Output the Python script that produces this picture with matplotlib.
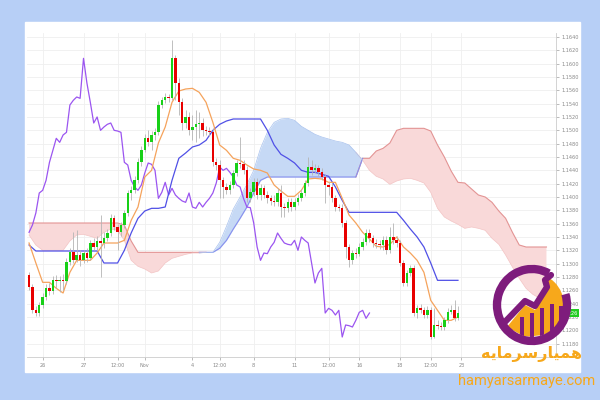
import numpy as np
import matplotlib
matplotlib.use("Agg")
import matplotlib.pyplot as plt
from matplotlib.patches import Rectangle, Circle, Arc, Polygon

# ---------- data (4h candles, Ichimoku) ----------
first_open = 1.1283
closes = [1.1265, 1.1230, 1.1226, 1.1238, 1.1250, 1.1263, 1.1259, 1.1275, 1.1274, 1.1275,
          1.1274, 1.1302, 1.1317, 1.1305, 1.1313, 1.1305, 1.1316, 1.1308, 1.1331, 1.1325,
          1.1334, 1.1331, 1.1338, 1.1346, 1.1368, 1.1355, 1.1347, 1.1358, 1.1376, 1.1406,
          1.1410, 1.1425, 1.1452, 1.1470, 1.1488, 1.1482, 1.1493, 1.1497, 1.1538, 1.1545,
          1.1550, 1.1548, 1.1608, 1.1571, 1.1542, 1.1511, 1.1520, 1.1500, 1.1505, 1.1509,
          1.1511, 1.1500, 1.1499, 1.1497, 1.1452, 1.1448, 1.1425, 1.1415, 1.1410, 1.1418,
          1.1436, 1.1451, 1.1449, 1.1440, 1.1398, 1.1407, 1.1422, 1.1403, 1.1413, 1.1403,
          1.1398, 1.1394, 1.1392, 1.1406, 1.1385, 1.1383, 1.1392, 1.1385, 1.1392, 1.1398,
          1.1406, 1.1421, 1.1445, 1.1440, 1.1443, 1.1437, 1.1430, 1.1418, 1.1415, 1.1398,
          1.1385, 1.1384, 1.1361, 1.1325, 1.1305, 1.1316, 1.1315, 1.1325, 1.1332, 1.1346,
          1.1338, 1.1331, 1.1329, 1.1328, 1.1335, 1.1320, 1.1340, 1.1335, 1.1331, 1.1301,
          1.1271, 1.1286, 1.1293, 1.1226, 1.1233, 1.1230, 1.1223, 1.1230, 1.1190, 1.1208,
          1.1207, 1.1205, 1.1215, 1.1227, 1.1230, 1.1218, 1.1226]
highs = [1.1287, 1.1269, 1.1236, 1.1242, 1.1256, 1.1269, 1.1271, 1.1281, 1.1283, 1.1281,
         1.1284, 1.1308, 1.1323, 1.1347, 1.1350, 1.1320, 1.1320, 1.1323, 1.1335, 1.1338,
         1.1341, 1.1373, 1.1347, 1.1352, 1.1374, 1.1373, 1.1359, 1.1362, 1.1380, 1.1410,
         1.1416, 1.1431, 1.1458, 1.1476, 1.1494, 1.1500, 1.1499, 1.1503, 1.1544, 1.1550,
         1.1556, 1.1554, 1.1635, 1.1613, 1.1578, 1.1548, 1.1530, 1.1527, 1.1523, 1.1530,
         1.1527, 1.1518, 1.1506, 1.1505, 1.1503, 1.1458, 1.1455, 1.1430, 1.1421, 1.1424,
         1.1440, 1.1455, 1.1490, 1.1455, 1.1446, 1.1413, 1.1428, 1.1428, 1.1419, 1.1418,
         1.1409, 1.1403, 1.1403, 1.1413, 1.1418, 1.1391, 1.1398, 1.1398, 1.1398, 1.1404,
         1.1412, 1.1425, 1.1460, 1.1455, 1.1449, 1.1448, 1.1443, 1.1434, 1.1422, 1.1421,
         1.1403, 1.1389, 1.1389, 1.1365, 1.1329, 1.1320, 1.1323, 1.1331, 1.1338, 1.1352,
         1.1352, 1.1343, 1.1337, 1.1335, 1.1341, 1.1341, 1.1355, 1.1361, 1.1341, 1.1335,
         1.1305, 1.1290, 1.1298, 1.1298, 1.1238, 1.1239, 1.1235, 1.1236, 1.1235, 1.1233,
         1.1215, 1.1212, 1.1220, 1.1233, 1.1238, 1.1245, 1.1236]
lows = [1.1260, 1.1226, 1.1221, 1.1221, 1.1233, 1.1245, 1.1253, 1.1254, 1.1263, 1.1257,
        1.1260, 1.1269, 1.1298, 1.1301, 1.1302, 1.1296, 1.1301, 1.1302, 1.1305, 1.1320,
        1.1320, 1.1280, 1.1323, 1.1334, 1.1341, 1.1350, 1.1320, 1.1341, 1.1353, 1.1371,
        1.1395, 1.1406, 1.1421, 1.1446, 1.1467, 1.1476, 1.1470, 1.1485, 1.1493, 1.1533,
        1.1541, 1.1542, 1.1545, 1.1545, 1.1523, 1.1500, 1.1503, 1.1493, 1.1485, 1.1482,
        1.1488, 1.1491, 1.1493, 1.1491, 1.1446, 1.1440, 1.1398, 1.1398, 1.1404, 1.1404,
        1.1413, 1.1431, 1.1443, 1.1434, 1.1392, 1.1392, 1.1401, 1.1397, 1.1395, 1.1398,
        1.1391, 1.1388, 1.1386, 1.1386, 1.1370, 1.1370, 1.1377, 1.1379, 1.1380, 1.1388,
        1.1394, 1.1401, 1.1416, 1.1433, 1.1436, 1.1431, 1.1425, 1.1391, 1.1403, 1.1392,
        1.1379, 1.1379, 1.1355, 1.1308, 1.1295, 1.1299, 1.1308, 1.1311, 1.1320, 1.1328,
        1.1332, 1.1325, 1.1323, 1.1322, 1.1320, 1.1314, 1.1316, 1.1329, 1.1325, 1.1296,
        1.1266, 1.1266, 1.1281, 1.1221, 1.1218, 1.1226, 1.1218, 1.1218, 1.1187, 1.1188,
        1.1202, 1.1200, 1.1200, 1.1211, 1.1224, 1.1214, 1.1215]

# lines read every second bar
tenkan = [1.1331, 1.1301, 1.1272, 1.1272, 1.1263, 1.1256, 1.1287, 1.1305, 1.1305, 1.1305,
          1.1316, 1.1331, 1.1331, 1.1331, 1.1335, 1.1365, 1.1385, 1.1430, 1.1440, 1.1481,
          1.1505, 1.1542, 1.1559, 1.1562, 1.1563, 1.1557, 1.1542, 1.1512, 1.1478, 1.1470,
          1.1458, 1.1455, 1.1448, 1.1442, 1.1440, 1.1436, 1.1418, 1.1409, 1.1401, 1.1401,
          1.1410, 1.1427, 1.1428, 1.1427, 1.1422, 1.1422, 1.1398, 1.1373, 1.1361, 1.1347,
          1.1337, 1.1326, 1.1325, 1.1329, 1.1340, 1.1325, 1.1316, 1.1305, 1.1287, 1.1245,
          1.1230, 1.1215, 1.1215, 1.1220]
kijun = [1.1328, 1.1319, 1.1319, 1.1319, 1.1319, 1.1319, 1.1319, 1.1319, 1.1319, 1.1319,
         1.1319, 1.1301, 1.1301, 1.1301, 1.1320, 1.1346, 1.1368, 1.1379, 1.1383, 1.1383,
         1.1385, 1.1425, 1.1458, 1.1466, 1.1475, 1.1478, 1.1485, 1.1500, 1.1509, 1.1514,
         1.1517, 1.1517, 1.1517, 1.1517, 1.1517, 1.1500, 1.1478, 1.1464, 1.1458, 1.1451,
         1.1440, 1.1437, 1.1437, 1.1434, 1.1431, 1.1415, 1.1395, 1.1377, 1.1377, 1.1377,
         1.1377, 1.1377, 1.1377, 1.1377, 1.1377, 1.1365, 1.1352, 1.1340, 1.1325, 1.1301,
         1.1275, 1.1275, 1.1275, 1.1275]
span_a = [1.1343, 1.1328, 1.1320, 1.1320, 1.1320, 1.1320, 1.1334, 1.1343, 1.1344, 1.1341,
          1.1338, 1.1347, 1.1352, 1.1350, 1.1335, 1.1305, 1.1296, 1.1292, 1.1286, 1.1289,
          1.1301, 1.1308, 1.1311, 1.1314, 1.1316, 1.1316, 1.1317, 1.1317, 1.1332, 1.1356,
          1.1382, 1.1400, 1.1419, 1.1440, 1.1473, 1.1497, 1.1512, 1.1517, 1.1518, 1.1515,
          1.1506, 1.1500, 1.1494, 1.1490, 1.1487, 1.1484, 1.1482, 1.1478, 1.1467, 1.1455,
          1.1440, 1.1431, 1.1427, 1.1419, 1.1424, 1.1427, 1.1428, 1.1425, 1.1421, 1.1407,
          1.1383, 1.1370, 1.1364, 1.1359, 1.1353, 1.1355, 1.1353, 1.1350, 1.1338, 1.1329,
          1.1313, 1.1295, 1.1278, 1.1263, 1.1254, 1.1248, 1.1245]
span_b = [1.1361, 1.1361, 1.1361, 1.1361, 1.1361, 1.1361, 1.1361, 1.1361, 1.1361, 1.1361,
          1.1361, 1.1361, 1.1361, 1.1361, 1.1358, 1.1334, 1.1317, 1.1317, 1.1317, 1.1317,
          1.1317, 1.1317, 1.1317, 1.1317, 1.1317, 1.1317, 1.1317, 1.1317, 1.1323, 1.1335,
          1.1352, 1.1368, 1.1385, 1.1406, 1.1425, 1.1430, 1.1430, 1.1430, 1.1430, 1.1430,
          1.1430, 1.1430, 1.1430, 1.1430, 1.1430, 1.1430, 1.1430, 1.1430, 1.1430, 1.1458,
          1.1458, 1.1469, 1.1473, 1.1481, 1.1500, 1.1503, 1.1503, 1.1503, 1.1503, 1.1499,
          1.1478, 1.1460, 1.1439, 1.1422, 1.1421, 1.1412, 1.1403, 1.1400, 1.1392, 1.1379,
          1.1368, 1.1347, 1.1328, 1.1325, 1.1325, 1.1325, 1.1325]
lag = 26  # chikou shift

date_ticks = [4, 16, 26, 34, 48, 56, 66, 78, 88, 97, 109, 118, 127]
date_labels = ["26", "27", "12:00", "Nov", "4", "12:00", "8", "11",
               "12:00", "16", "18", "12:00", "23"]
price_ticks = np.arange(1.1180, 1.16401, 0.0020)

# ---------- figure ----------
fig = plt.figure(figsize=(6, 4), dpi=100, facecolor="#b7cff6")
fig.patches.append(Rectangle((25 / 600, 28 / 400), 555 / 600, 350 / 400,
                             transform=fig.transFigure, color="white", zorder=-5))
ax = fig.add_axes([27 / 600, 43 / 400, 529 / 600, 324 / 400])
ax.set_facecolor("white")

bars = np.arange(len(closes))
opens = np.array([first_open] + closes[:-1])
closes_a = np.array(closes)
line_x = np.arange(0, len(closes), 2)
cloud_x = np.arange(0, 2 * len(span_a), 2)
sa = np.array(span_a)
sb = np.array(span_b)

# cloud
ax.fill_between(cloud_x, sa, sb, where=sa >= sb, interpolate=True,
                color="#c6d9f5", lw=0, zorder=1)
ax.fill_between(cloud_x, sa, sb, where=sa < sb, interpolate=True,
                color="#f9d9d9", lw=0, zorder=1)
red = sb > sa
red_ext = red | np.r_[red[1:], False] | np.r_[False, red[:-1]]
blue_ext = ~red | np.r_[~red[1:], False] | np.r_[False, ~red[:-1]]
ax.plot(cloud_x, np.where(red_ext, sb, np.nan), color="#e39494", lw=0.8, zorder=2)
ax.plot(cloud_x, np.where(blue_ext, sb, np.nan), color="#8890ee", lw=0.8, zorder=2)
ax.plot(cloud_x, np.where(red_ext, sa, np.nan), color="#f3c4c4", lw=0.5, zorder=2)
ax.plot(cloud_x, np.where(blue_ext, sa, np.nan), color="#a8c2ee", lw=0.5, zorder=2)

# chikou, kijun, tenkan
ax.plot(bars[:-lag], closes_a[lag:], color="#9b55f0", lw=0.9, zorder=3)
ax.plot(line_x, kijun, color="#5050e6", lw=0.9, zorder=3)
ax.plot(line_x, tenkan, color="#f5a35c", lw=0.9, zorder=3)

# candles
up = closes_a >= opens
ax.vlines(bars, lows, highs, color="#b4b4b4", lw=0.6, zorder=4)
body = np.maximum(np.abs(closes_a - opens), 0.00006)
ax.bar(bars, body, bottom=np.minimum(opens, closes_a), width=0.72,
       color=np.where(up, "#18d018", "#e80000"), lw=0, zorder=5)

# last price tag on the axis
ax.annotate(f"{closes[-1]:.4f}", xy=(1.0, closes[-1]), xycoords=("axes fraction", "data"),
            xytext=(3, 0), textcoords="offset points", fontsize=3.6, color="white",
            va="center", bbox=dict(boxstyle="square,pad=0.3", fc="#22cc22", ec="none"))

ax.set_xlim(-0.6, 154.8)
ax.set_ylim(1.1160, 1.1646)
ax.yaxis.tick_right()
ax.set_yticks(price_ticks)
ax.set_yticklabels([f"{p:.4f}" for p in price_ticks])
ax.set_xticks(date_ticks)
ax.set_xticklabels(date_labels)
ax.tick_params(labelsize=3.6, colors="#888888", length=2, width=0.4, pad=2)
ax.grid(True, color="#efefef", lw=0.6, zorder=0)
ax.set_axisbelow(True)
for side in ("top", "left"):
    ax.spines[side].set_visible(False)
for side in ("right", "bottom"):
    ax.spines[side].set_color("#cccccc")
    ax.spines[side].set_linewidth(0.6)

# ---------- watermark logo ----------
lg = fig.add_axes([0, 0, 1, 1], facecolor="none")
lg.set_xlim(0, 600)
lg.set_ylim(0, 400)
lg.axis("off")
purple = "#7e1c7c"
orange = "#f7a81b"
cx, cy = 532, 95
clip = Circle((cx, cy), 32, transform=lg.transData)
shape = Polygon([(507, 73), (525, 95), (535, 90), (546, 108), (545, 117), (551, 122),
                 (557, 120), (563, 125), (567, 112), (567, 88), (552, 66), (525, 63)],
                closed=True, fc=orange, ec="none", zorder=10)
lg.add_patch(shape)
shape.set_clip_path(clip)
for bx, top in [(522, 83), (532, 87), (542, 92), (552, 96), (561, 94)]:
    b = Rectangle((bx - 2, 58), 4, top - 58, fc=purple, ec="none", zorder=11)
    lg.add_patch(b)
    b.set_clip_path(clip)
lg.plot([503, 525, 535, 547, 545, 551], [76, 99, 94, 113, 120, 125],
        color=purple, lw=4.5, solid_capstyle="round", solid_joinstyle="round", zorder=12)
lg.add_patch(Arc((cx, cy), 70, 72, theta1=62, theta2=378, color=purple, lw=6, zorder=12))

lg.text(531, 46, "\uFEEA\uFBFE\uFE8E\uFEE3\uFEAE\uFEB3\uFEAD\uFE8E\uFBFF\uFEE4\uFEEB",
        fontsize=11.5, fontweight="bold", color=orange, ha="center", va="center",
        family=["DejaVu Sans"], zorder=13)
lg.text(527, 19, "hamyarsarmaye.com", fontsize=10.5, color=orange,
        ha="center", va="center", family=["Roboto", "DejaVu Sans"], zorder=13)

fig.savefig("out.png", dpi=100, facecolor=fig.get_facecolor())
